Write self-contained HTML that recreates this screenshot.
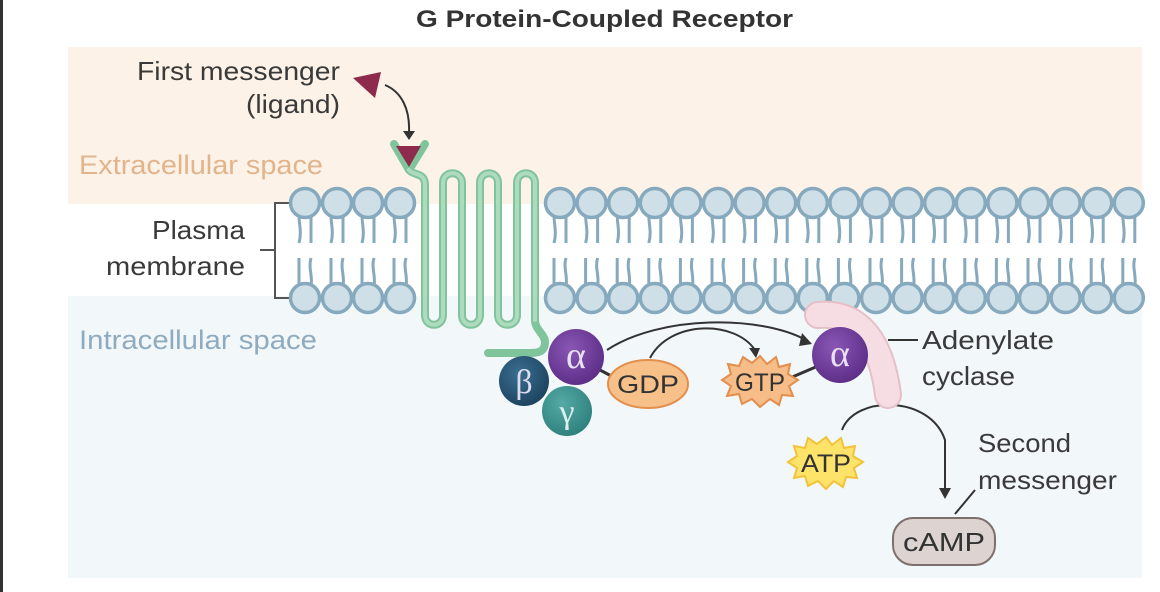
<!DOCTYPE html>
<html><head><meta charset="utf-8"><style>
html,body{margin:0;padding:0;background:#fff;}
body{width:1160px;height:592px;overflow:hidden;position:relative;font-family:"Liberation Sans",sans-serif;}
</style></head><body>
<svg width="1160" height="592" viewBox="0 0 1160 592" xmlns="http://www.w3.org/2000/svg" style="position:absolute;left:0;top:0">
<defs>
<radialGradient id="gp" cx="0.4" cy="0.35" r="0.7"><stop offset="0" stop-color="#8a56b5"/><stop offset="1" stop-color="#5a2d86"/></radialGradient>
<radialGradient id="gb" cx="0.4" cy="0.35" r="0.7"><stop offset="0" stop-color="#3a6e90"/><stop offset="1" stop-color="#1c425e"/></radialGradient>
<radialGradient id="gg" cx="0.4" cy="0.35" r="0.7"><stop offset="0" stop-color="#55aaa5"/><stop offset="1" stop-color="#2d7f7b"/></radialGradient>
<g id="lip" fill="none" stroke="#86a9bd" stroke-width="3">
<path d="M-6 215 C-6 225,-3 232,-6 243 M6 215 L6 243"/>
<path d="M-6 258 L-6 286 M6 258 C3 268,8 276,6 286"/>
<circle cx="0" cy="203" r="14.5" fill="#cfdfe8" stroke-width="3.5"/>
<circle cx="0" cy="298" r="14.5" fill="#cfdfe8" stroke-width="3.5"/>
</g>
</defs>
<rect x="0" y="0" width="3" height="592" fill="#333"/>
<rect x="68" y="47" width="1074" height="157" fill="#fcf2e7"/>
<rect x="68" y="296" width="1074" height="282" fill="#f2f7f9"/>
<text x="416" y="27" font-size="24" font-weight="bold" fill="#333" textLength="377" lengthAdjust="spacingAndGlyphs">G Protein-Coupled Receptor</text>
<text x="137" y="80" font-size="26" fill="#3a3a3a" textLength="203" lengthAdjust="spacingAndGlyphs">First messenger</text>
<text x="246" y="113" font-size="26" fill="#3a3a3a" textLength="94" lengthAdjust="spacingAndGlyphs">(ligand)</text>
<text x="79" y="174" font-size="27" fill="#e2b48c" textLength="244" lengthAdjust="spacingAndGlyphs">Extracellular space</text>
<text x="152" y="239" font-size="26" fill="#3a3a3a" textLength="93" lengthAdjust="spacingAndGlyphs">Plasma</text>
<text x="106" y="275" font-size="26" fill="#3a3a3a" textLength="139" lengthAdjust="spacingAndGlyphs">membrane</text>
<path d="M291 203 H275 V298 H291 M275 250 H260" fill="none" stroke="#555" stroke-width="2"/>
<text x="79" y="349" font-size="27" fill="#8eabbf" textLength="238" lengthAdjust="spacingAndGlyphs">Intracellular space</text>
<use href="#lip" x="305"/><use href="#lip" x="337"/><use href="#lip" x="368"/><use href="#lip" x="400"/>
<use href="#lip" x="560"/><use href="#lip" x="591.6"/><use href="#lip" x="623.2"/><use href="#lip" x="654.8"/><use href="#lip" x="686.4"/><use href="#lip" x="718"/><use href="#lip" x="749.6"/><use href="#lip" x="781.2"/><use href="#lip" x="812.8"/><use href="#lip" x="844.4"/><use href="#lip" x="876"/><use href="#lip" x="907.6"/><use href="#lip" x="939.2"/><use href="#lip" x="970.8"/><use href="#lip" x="1002.4"/><use href="#lip" x="1034"/><use href="#lip" x="1065.6"/><use href="#lip" x="1097.2"/><use href="#lip" x="1128.8"/>
<g fill="none" stroke-linejoin="round" stroke-linecap="round">
<path d="M394 144 L409 170 C414 176,425 172,425 185 L425 315 C425 328,443 328,443 315 L443 183 C443 170,462 170,462 183 L462 315 C462 328,480 328,480 315 L480 183 C480 170,498 170,498 183 L498 315 C498 328,517 328,517 315 L517 183 C517 170,535 170,535 183 L535 320 C535 330,545 334,545 342 C545 352,538 353,530 353 L488 353 M409 170 L425 144" stroke="#80c49b" stroke-width="8"/>
<path d="M409 170 C414 176,425 172,425 185 L425 315 C425 328,443 328,443 315 L443 183 C443 170,462 170,462 183 L462 315 C462 328,480 328,480 315 L480 183 C480 170,498 170,498 183 L498 315 C498 328,517 328,517 315 L517 183 C517 170,535 170,535 183 L535 320" stroke="#addbbd" stroke-width="4"/>
</g>
<polygon points="353,78 381,72 375,98" fill="#8e2a4c"/>
<polygon points="396,146 421,146 409,167" fill="#8e2a4c"/>
<path d="M385 85 C402 92,410 110,409 132" fill="none" stroke="#333" stroke-width="2"/>
<polygon points="403,131 415,131 409,140" fill="#333"/>
<path d="M607 350 C660 315,760 315,806 340" fill="none" stroke="#333" stroke-width="2"/>
<polygon points="802,333 812,344 799,346" fill="#333"/>
<path d="M650 358 C670 320,735 320,755 350" fill="none" stroke="#333" stroke-width="2"/>
<polygon points="749,348 760,348 756,358" fill="#333"/>
<path d="M842 430 C855 395,930 395,945 440 L945 490" fill="none" stroke="#333" stroke-width="2"/>
<polygon points="939,488 951,488 945,499" fill="#333"/>
<line x1="600" y1="370" x2="615" y2="378" stroke="#333" stroke-width="3"/>
<ellipse cx="648" cy="384" rx="40" ry="24" fill="#f7c089" stroke="#e38e4c" stroke-width="2"/>
<text x="648" y="393" text-anchor="middle" font-size="25" fill="#333" textLength="62" lengthAdjust="spacingAndGlyphs">GDP</text>
<circle cx="524" cy="381" r="25" fill="url(#gb)"/>
<text x="524" y="393" text-anchor="middle" font-size="34" font-family="Liberation Serif,serif" fill="#dde">β</text>
<circle cx="567" cy="411" r="25" fill="url(#gg)"/>
<text x="567" y="423" text-anchor="middle" font-size="34" font-family="Liberation Serif,serif" fill="#dee">γ</text>
<circle cx="576" cy="357" r="28" fill="url(#gp)"/>
<text x="576" y="368" text-anchor="middle" font-size="38" font-family="Liberation Serif,serif" fill="#e8e0f0">α</text>
<path d="M818 315 C850 312,880 330,888 395" fill="none" stroke="#e6bfc8" stroke-width="28" stroke-linecap="round"/>
<path d="M818 315 C850 312,880 330,888 395" fill="none" stroke="#f6dde3" stroke-width="24" stroke-linecap="round"/>
<line x1="888" y1="340" x2="918" y2="340" stroke="#333" stroke-width="2"/>
<text x="922" y="349" font-size="26" fill="#3a3a3a" textLength="132" lengthAdjust="spacingAndGlyphs">Adenylate</text>
<text x="922" y="385" font-size="26" fill="#3a3a3a" textLength="93" lengthAdjust="spacingAndGlyphs">cyclase</text>
<line x1="790" y1="378" x2="818" y2="366" stroke="#333" stroke-width="3"/>
<polygon points="760,356 767,364 776,357 779,367 790,364 788,374 798,380 789,386 793,396 782,395 779,405 770,399 760,407 752,399 742,404 739,394 727,396 731,386 722,380 731,374 728,364 739,366 743,357 752,363" fill="#f6bd89" stroke="#e38e4c" stroke-width="2"/>
<text x="760" y="391" text-anchor="middle" font-size="25" fill="#333" textLength="50" lengthAdjust="spacingAndGlyphs">GTP</text>
<circle cx="840" cy="355" r="28" fill="url(#gp)"/>
<text x="840" y="366" text-anchor="middle" font-size="38" font-family="Liberation Serif,serif" fill="#e8e0f0">α</text>
<polygon points="826,437 832,445 841,438 844,448 855,446 853,456 863,462 854,468 857,478 846,477 843,487 834,481 826,489 818,481 808,486 805,476 794,478 797,468 788,462 797,456 794,446 805,448 808,438 817,444" fill="#fde36a" stroke="#f2c33a" stroke-width="2"/>
<text x="826" y="472" text-anchor="middle" font-size="25" fill="#333" textLength="50" lengthAdjust="spacingAndGlyphs">ATP</text>
<line x1="955" y1="514" x2="975" y2="490" stroke="#333" stroke-width="2"/>
<text x="978" y="452" font-size="26" fill="#3a3a3a" textLength="93" lengthAdjust="spacingAndGlyphs">Second</text>
<text x="978" y="489" font-size="26" fill="#3a3a3a" textLength="139" lengthAdjust="spacingAndGlyphs">messenger</text>
<rect x="893" y="518" width="102" height="47" rx="20" fill="#ddd4d1" stroke="#7d6f6c" stroke-width="2"/>
<text x="944" y="551" text-anchor="middle" font-size="26" fill="#333" textLength="82" lengthAdjust="spacingAndGlyphs">cAMP</text>
</svg>
</body></html>
